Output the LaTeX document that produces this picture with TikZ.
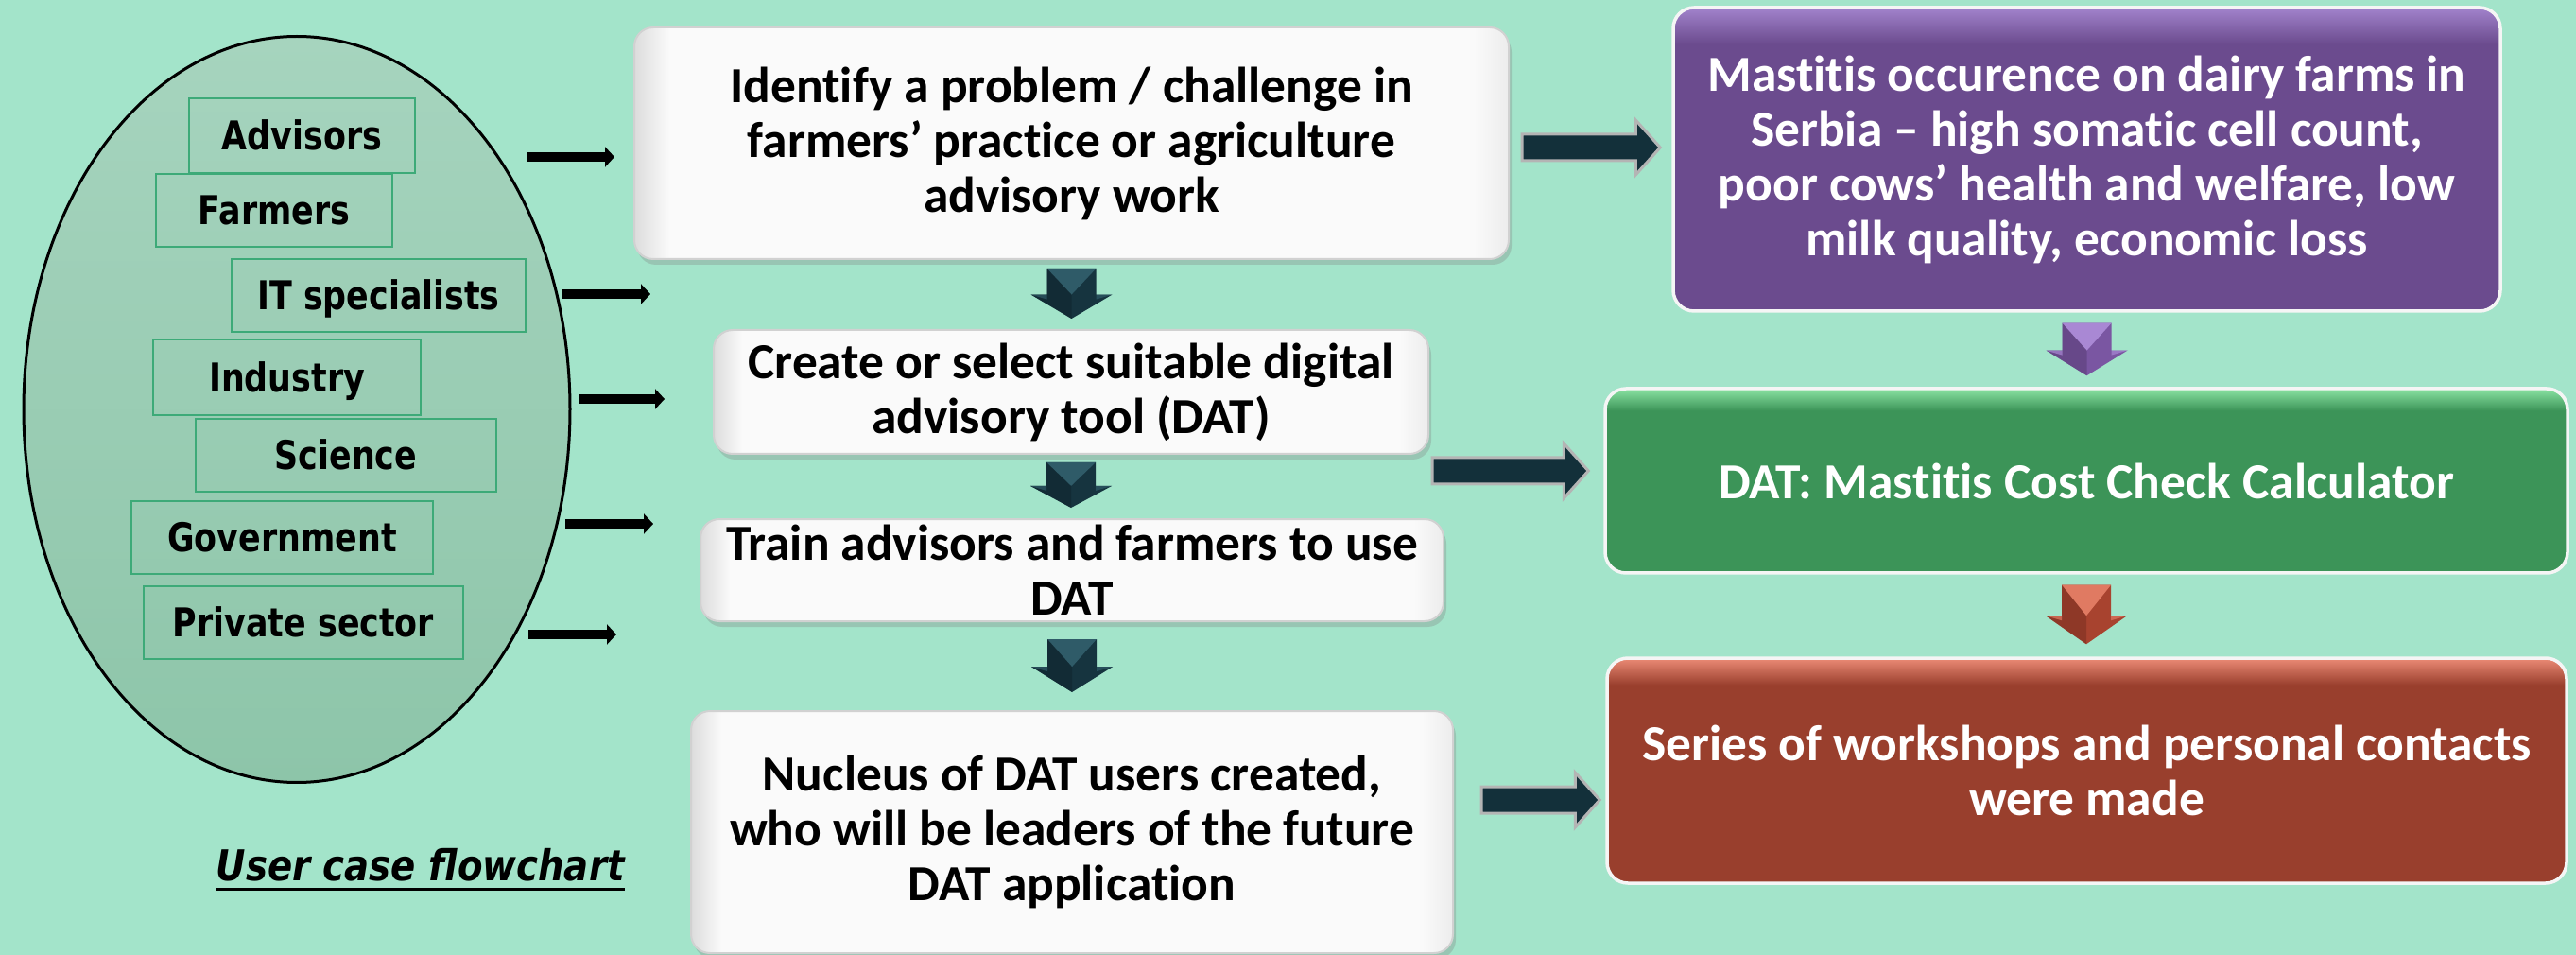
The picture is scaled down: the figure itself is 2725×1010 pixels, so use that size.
\documentclass[tikz,border=0pt]{standalone}
\usepackage{fontspec}
\setmainfont{Carlito}[Ligatures=NoCommon, RawFeature={-liga;-clig;-calt;-dlig}]
\newfontfamily\verd{DejaVu Sans}[FakeStretch=0.83]
\newfontfamily\verdt{DejaVu Sans}[FakeStretch=0.86]
\usetikzlibrary{shapes.geometric,arrows.meta,shadows,calc}

\definecolor{bg}{HTML}{A3E4CA}
\definecolor{ellTop}{HTML}{A6D4BE}
\definecolor{ellBot}{HTML}{8DC5A9}
\definecolor{sboxc}{HTML}{3DAA78}
\definecolor{darr}{HTML}{16343F}
\definecolor{darrL}{HTML}{2F5B68}
\definecolor{harr}{HTML}{13303A}
\definecolor{harrEdge}{HTML}{B4B4B4}
\definecolor{pbody}{HTML}{6B4B8E}
\definecolor{ptop}{HTML}{A283CC}
\definecolor{gbody}{HTML}{3C9458}
\definecolor{gtop}{HTML}{8AE3A3}
\definecolor{rbody}{HTML}{993F2D}
\definecolor{rtop}{HTML}{EC8B76}
\definecolor{parr}{HTML}{7A56A2}
\definecolor{parrL}{HTML}{A988D4}
\definecolor{rarr}{HTML}{A8432F}
\definecolor{rarrL}{HTML}{E07A62}
\definecolor{wedge}{HTML}{DCDCDC}
\definecolor{wbody}{HTML}{FAFAFA}
\definecolor{wedgeR}{HTML}{ECECEC}

\pgfdeclareverticalshading{purpsh}{100bp}{color(0bp)=(pbody); color(25bp)=(pbody); color(69bp)=(pbody); color(75bp)=(ptop); color(100bp)=(ptop)}
\pgfdeclareverticalshading{greensh}{100bp}{color(0bp)=(gbody); color(25bp)=(gbody); color(69bp)=(gbody); color(75bp)=(gtop); color(100bp)=(gtop)}
\pgfdeclareverticalshading{redsh}{100bp}{color(0bp)=(rbody); color(25bp)=(rbody); color(69bp)=(rbody); color(75bp)=(rtop); color(100bp)=(rtop)}
\pgfdeclarehorizontalshading{whsh}{100bp}{color(0bp)=(wedge); color(25bp)=(wedge); color(27bp)=(wbody); color(73bp)=(wbody); color(75bp)=(wedgeR); color(100bp)=(wedgeR)}

\newcommand\bxfont{\bfseries\fontsize{15.2pt}{16.5pt}\selectfont}
\newcommand\smfont{\verd\bfseries\fontsize{11.95pt}{14pt}\selectfont}

% block arrow pointing down: #1 top, #2 tip, #3 body colour, #4 light colour
\newcommand\blockdown[4]{%
  \fill[#3] let \p1=(#1), \p2=(#2), \p3=($(#1)!0.52!(#2)$) in
    (\x1-2.6mm,\y1) -- (\x1+2.6mm,\y1) -- (\x1+2.6mm,\y3) -- (\x1+4.3mm,\y3)
    -- (\x1,\y2) -- (\x1-4.3mm,\y3) -- (\x1-2.6mm,\y3) -- cycle;
  \fill[#4] let \p1=(#1), \p2=(#2), \p3=($(#1)!0.52!(#2)$) in
    (\x1-2.6mm,\y1) -- (\x1+2.6mm,\y1) -- (\x1,\y3) -- cycle;
  \fill[#3!70!black, opacity=0.5] let \p1=(#1), \p2=(#2), \p3=($(#1)!0.52!(#2)$) in
    (\x1-2.6mm,\y1) -- (\x1,\y3) -- (\x1,\y2) -- (\x1-4.3mm,\y3) -- (\x1-2.6mm,\y3) -- cycle;
  \fill[#4, opacity=0.7] let \p1=(#1), \p2=(#2), \p3=($(#1)!0.52!(#2)$) in
    (\x1-4.3mm,\y3) -- (\x1-2.6mm,\y3) -- (\x1-2.6mm,\y3-0.5mm) -- cycle
    (\x1+4.3mm,\y3) -- (\x1+2.6mm,\y3) -- (\x1+2.6mm,\y3-0.5mm) -- cycle;
}
% block arrow pointing right: #1 tail, #2 tip
\newcommand\blockright[2]{%
  \filldraw[fill=harr, draw=harrEdge, line width=0.3mm, line join=miter] let \p1=(#1), \p2=(#2) in
    (\x1,\y1+1.4mm) -- (\x2-2.6mm,\y1+1.4mm) -- (\x2-2.6mm,\y1+2.9mm) -- (\x2,\y1)
    -- (\x2-2.6mm,\y1-2.9mm) -- (\x2-2.6mm,\y1-1.4mm) -- (\x1,\y1-1.4mm) -- cycle;
}

\begin{document}
\begin{tikzpicture}[x=0.1mm,y=-0.1mm,
  ellshape/.style={ellipse, draw=black, line width=0.3mm, top color=ellTop, bottom color=ellBot,
    minimum width=57.8mm, minimum height=78.9mm, inner sep=0pt},
  sbox/.style={rectangle, draw=sboxc, line width=0.25mm, font=\smfont, text=black,
    text height=3.06mm, text depth=0pt, inner sep=0pt},
  wbox/.style={rectangle, rounded corners=2mm, draw=white!82!black, line width=0.2mm,
    shade, shading=whsh, drop shadow={shadow xshift=0.3mm, shadow yshift=-0.6mm, opacity=0.3},
    align=center, font=\bxfont, text=black, inner sep=0pt},
  cbox/.style={rectangle, rounded corners=2.2mm, draw=white!92!gray, line width=0.35mm,
    shade, align=center, font=\bxfont, text=white, inner sep=0pt},
  smarrow/.style={line width=1mm, -{Triangle[length=1mm, width=2.1mm]}}
]
\useasboundingbox (0,0) rectangle (2725,1010);
\fill[bg] (0,0) rectangle (2725,1010);

% ---- stakeholder ellipse ----
\node[ellshape] (ell) at (314,433) {};
\node[sbox, minimum width=23.9mm, minimum height=7.9mm] (adv) at (319.5,143.5) {Advisors};
\node[sbox, minimum width=25.0mm, minimum height=7.7mm] (far) at (290,222.5) {Farmers};
\node[sbox, minimum width=31.1mm, minimum height=7.7mm] (its) at (400.5,312.5) {IT specialists};
\node[sbox, minimum width=28.3mm, minimum height=8.0mm] (ind) at (303.5,399) {Industry};
\node[sbox, minimum width=31.8mm, minimum height=7.7mm] (sci) at (366,481.5) {Science};
\node[sbox, minimum width=31.9mm, minimum height=7.7mm] (gov) at (298.5,568.5) {Government};
\node[sbox, minimum width=33.8mm, minimum height=7.7mm] (pri) at (321,658.5) {Private sector};

% ---- title ----
\node[anchor=base west, inner sep=0pt, font=\verdt\bfseries\itshape\fontsize{12.8pt}{15pt}\selectfont]
  (title) at (228,931) {User case flowchart};
\draw[line width=0.3mm] ($(title.base west)+(0,9)$) -- ($(title.base east)+(0,9)$);

% ---- white column ----
\node[wbox, minimum width=92.5mm, minimum height=24.5mm] (b1) at (1133.5,151.5)
  {Identify a problem / challenge in\\farmers’ practice or agriculture\\advisory work};
\node[wbox, minimum width=75.6mm, minimum height=13.1mm] (b2) at (1133,414.5)
  {Create or select suitable digital\\advisory tool (DAT)};
\node[wbox, minimum width=78.6mm, minimum height=10.8mm] (b3) at (1134,603)
  {Train advisors and farmers to use\\DAT};
\node[wbox, minimum width=80.6mm, minimum height=25.6mm] (b4) at (1134,880)
  {Nucleus of DAT users created,\\who will be leaders of the future\\DAT application};

% ---- coloured column ----
\node[cbox, shading=purpsh, minimum width=87.5mm, minimum height=32.1mm] (p) at (2207.5,168.5)
  {Mastitis occurence on dairy farms in\\Serbia – high somatic cell count,\\poor cows’ health and welfare, low\\milk quality, economic loss};
\node[cbox, shading=greensh, minimum width=101.8mm, minimum height=19.5mm] (g) at (2207,508.5)
  {DAT: Mastitis Cost Check Calculator};
\node[cbox, shading=redsh, minimum width=101.5mm, minimum height=23.8mm] (r) at (2207.5,815)
  {Series of workshops and personal contacts\\were made};

% ---- down block arrows ----
\coordinate (d1t) at ([yshift=-0.9mm]b1.south);
\coordinate (d1b) at ([yshift=1.1mm]b2.north);
\coordinate (d2t) at ([yshift=-0.8mm]b2.south);
\coordinate (d2b) at ([yshift=1.1mm]b3.north);
\coordinate (d3t) at ([yshift=-1.8mm]b3.south);
\coordinate (d3b) at ([yshift=1.9mm]b4.north);
\coordinate (dpt) at ([yshift=-1.1mm]p.south);
\coordinate (dpb) at ([yshift=1.2mm]g.north);
\coordinate (drt) at ([yshift=-1.1mm]g.south);
\coordinate (drb) at ([yshift=1.3mm]r.north);
\blockdown{d1t}{d1b}{darr}{darrL}
\blockdown{d2t}{d2b}{darr}{darrL}
\blockdown{d3t}{d3b}{darr}{darrL}
\blockdown{dpt}{dpb}{parr}{parrL}
\blockdown{drt}{drb}{rarr}{rarrL}

% ---- right block arrows ----
\coordinate (y1) at (0,156);
\coordinate (y2) at (0,498);
\coordinate (y3) at (0,846);
\coordinate (h1s) at ($(b1.east |- y1)+(13,0)$);
\coordinate (h1e) at ($(p.west |- y1)+(-12,0)$);
\coordinate (h2s) at ($(b2.east |- y2)+(3,0)$);
\coordinate (h2e) at ($(g.west |- y2)+(-16,0)$);
\coordinate (h3s) at ($(b4.east |- y3)+(29,0)$);
\coordinate (h3e) at ($(r.west |- y3)+(-6,0)$);
\blockright{h1s}{h1e}
\blockright{h2s}{h2e}
\blockright{h3s}{h3e}

% ---- small black arrows ----
\coordinate (s1) at (557,166); \coordinate (e1) at (650,166);
\coordinate (s2) at (595,311); \coordinate (e2) at (688,311);
\coordinate (s3) at (612,422); \coordinate (e3) at (703,422);
\coordinate (s4) at (598,554); \coordinate (e4) at (691,554);
\coordinate (s5) at (559,671); \coordinate (e5) at (652,671);
\foreach \i in {1,...,5} \draw[smarrow] (s\i) -- (e\i);
\end{tikzpicture}
\end{document}
